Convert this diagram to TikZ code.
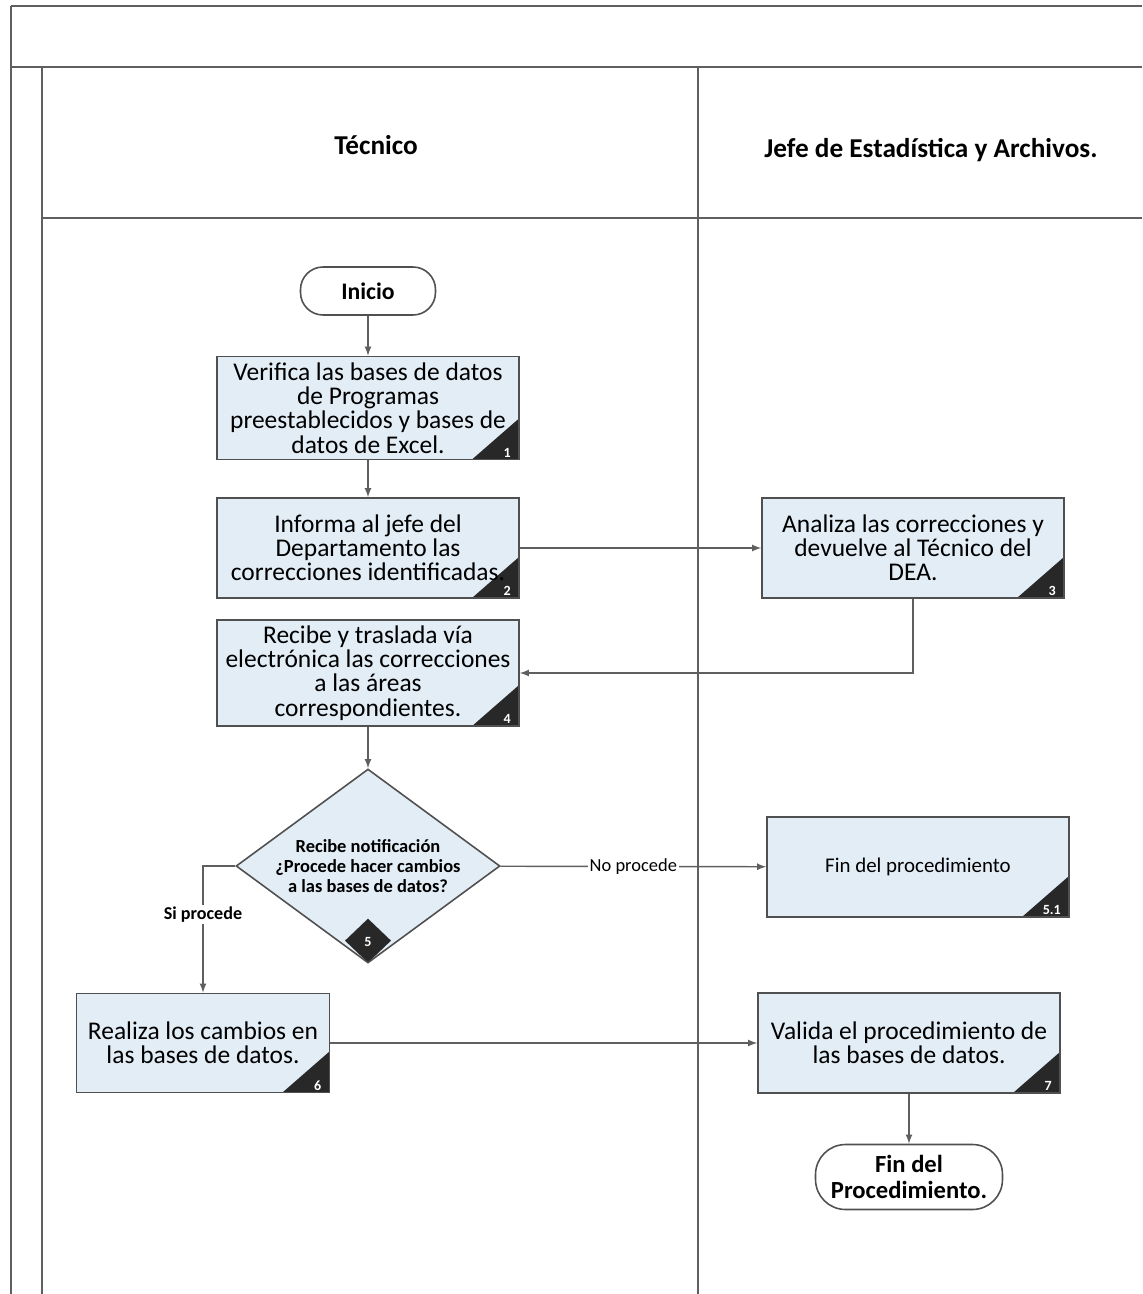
\documentclass[tikz,border=0pt]{standalone}
\usepackage{fontspec}
\setmainfont{Carlito}
\usetikzlibrary{shapes.geometric}
\definecolor{linegray}{RGB}{95,95,95}
\definecolor{boxline}{RGB}{80,80,80}
\definecolor{boxfill}{RGB}{227,237,246}
\definecolor{cornerfill}{RGB}{40,40,40}

\begin{document}
\begin{tikzpicture}[x=0.02cm, y=-0.02cm,
  lane/.style={draw=linegray, line width=0.6pt},
  title/.style={font=\fontsize{15.5}{18}\selectfont\bfseries},
  proc/.style={rectangle, draw=boxline, fill=boxfill, line width=0.9pt,
               minimum width=6.04cm, minimum height=2cm, align=center,
               font=\fontsize{14.5}{13.8}\selectfont,
               path picture={\fill[cornerfill] (path picture bounding box.south east)
                 -- ++(-0.94cm,0) -- ++(0.94cm,0.82cm) -- cycle;}},
  num/.style={text=white, font=\bfseries\fontsize{8}{9}\selectfont, inner sep=1.5pt},
  numbox/.style={num, anchor=south east, xshift=-0.12cm},
  term/.style={rectangle, rounded corners=0.45cm, draw=boxline, line width=0.9pt,
               fill=white, align=center, font=\fontsize{13.5}{14.5}\selectfont\bfseries},
  decision/.style={diamond, draw=boxline, fill=boxfill, line width=0.9pt, aspect=1.36,
                   inner sep=0pt, minimum width=5.28cm, minimum height=3.88cm, align=center,
                   font=\fontsize{10.5}{11.6}\selectfont\bfseries,
                   path picture={\fill[cornerfill] (path picture bounding box.south)
                     -- ++(-0.46cm,0.44cm) -- ++(0.46cm,0.44cm) -- ++(0.46cm,-0.44cm) -- cycle;}},
  lbl/.style={fill=white, inner sep=1pt},
  arrow/.style={->, >=latex, draw=linegray, line width=0.8pt}
]
  \useasboundingbox (0,0) rectangle (1142,1294);

  % Marco y carriles
  \draw[lane, line width=1.2pt] (11,6) -- (1142,6);
  \draw[lane] (11,6) -- (11,1294);
  \draw[lane] (11,67) -- (1142,67);
  \draw[lane] (42,67) -- (42,1294);
  \draw[lane] (698,67) -- (698,1294);
  \draw[lane] (42,218) -- (1142,218);
  \node[title] (tec) at (376,145) {Técnico};
  \node[title] (jefe) at (931,150) {Jefe de Estadística y Archivos.};

  % Técnico
  \node[term, minimum width=2.7cm, minimum height=0.96cm] (ini) at (368,291) {Inicio};
  \node[proc, minimum height=2.06cm, label={[numbox]south east:1}] (b1) at (368,408)
    {Verifica las bases de datos\\de Programas\\preestablecidos y bases de\\datos de Excel.};
  \node[proc, label={[numbox]south east:2}] (b2) at (368,548)
    {Informa al jefe del\\Departamento las\\correcciones identificadas.};
  \node[proc, label={[numbox]south east:4}] (b4) at (368,673)
    {Recibe y traslada vía\\electrónica las correcciones\\a las áreas\\correspondientes.};
  \node[decision, label={[num, anchor=center, yshift=0.44cm]south:5}] (q5) at (368,866)
    {Recibe notificación\\¿Procede hacer cambios\\a las bases de datos?};
  \node[proc, minimum width=5.06cm, minimum height=1.98cm, label={[numbox]south east:6}] (b6) at (203,1043)
    {Realiza los cambios en\\las bases de datos.};

  % Jefe de Estadística
  \node[proc, label={[numbox]south east:3}] (b3) at (913,548)
    {Analiza las correcciones y\\devuelve al Técnico del\\DEA.};
  \node[proc, font=\fontsize{11.9}{13}\selectfont, label={[numbox]south east:5.1}] (b51) at (918,867)
    {Fin del procedimiento};
  \node[proc, label={[numbox]south east:7}] (b7) at (909,1043)
    {Valida el procedimiento de\\las bases de datos.};
  \node[term, rounded corners=0.6cm, minimum width=3.74cm, minimum height=1.3cm,
        font=\fontsize{14}{14.5}\selectfont\bfseries] (fin) at (909,1177)
    {Fin del\\Procedimiento.};

  % Flechas
  \draw[arrow] (ini) -- (b1);
  \draw[arrow] (b1) -- (b2);
  \draw[arrow] (b2) -- (b3);
  \draw[arrow] (b3.south) |- (b4.east);
  \draw[arrow] (b4) -- (q5);
  \draw[arrow] (q5) -- node[lbl, font=\fontsize{10.5}{12}\selectfont] {No procede} (b51);
  \draw[arrow] (q5.west) -| node[lbl, pos=0.69, font=\fontsize{10.3}{12}\selectfont\bfseries] {Si procede} (b6.north);
  \draw[arrow] (b6) -- (b7);
  \draw[arrow] (b7) -- (fin);
\end{tikzpicture}
\end{document}
